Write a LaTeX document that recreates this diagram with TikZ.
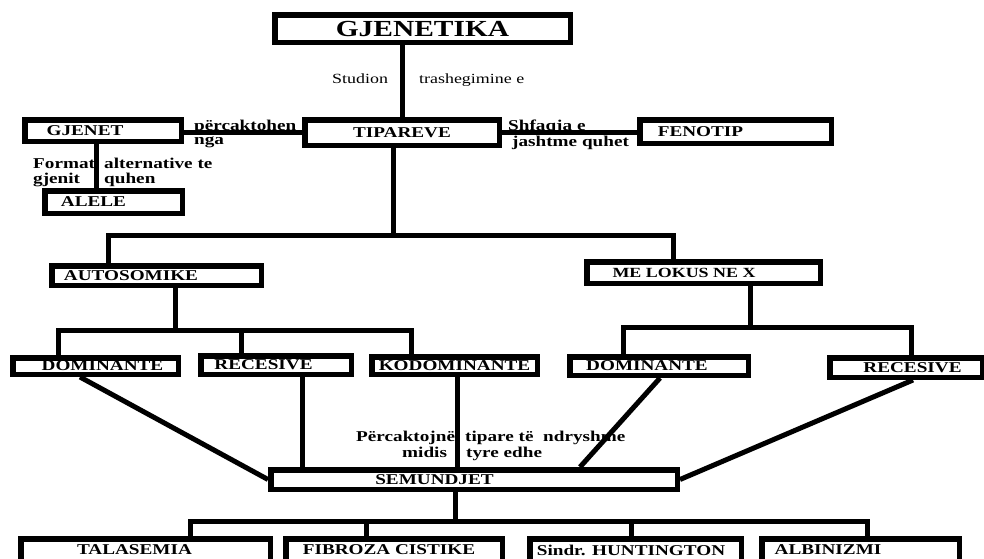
\documentclass[tikz,border=0pt]{standalone}
\usepackage{fontspec}
\setmainfont{Liberation Serif}[FakeStretch=1.28]
\begin{document}
\begin{tikzpicture}[x=1pt,y=-1pt,
  box/.style={draw, rectangle, line width=5.5pt, inner sep=0pt, font=\bfseries\fontsize{15}{15}\selectfont},
  wh/.style 2 args={minimum width={#1-5.5}, minimum height={#2-5.5}},
  conn/.style={line width=5pt},
  lab/.style={inner sep=0pt, font=\bfseries\fontsize{15}{15}\selectfont},
  labr/.style={inner sep=0pt, font=\fontsize{14}{14}\selectfont}]
\clip (0,0) rectangle (984,558);
\useasboundingbox (0,0) rectangle (984,558);

% boxes
\node[box, font=\bfseries\fontsize{23}{23}\selectfont, wh={301}{33}] (gjen) at (422.5,28.5) {GJENETIKA};
\node[box, wh={200}{31}] (tip) at (402,132.5) {TIPAREVE};
\node[box, wh={162}{27}] (gjn) at (103,130.5) {GJENET\hspace*{36pt}};
\node[box, wh={197}{29}] (fen) at (735.5,131.5) {FENOTIP\hspace*{70pt}};
\node[box, wh={143}{28}] (ale) at (113.5,202) {ALELE\hspace*{40pt}};
\node[box, wh={215}{25}] (aut) at (156.5,275.5) {AUTOSOMIKE\hspace*{51pt}};
\node[box, font=\bfseries\fontsize{14}{14}\selectfont, wh={239}{27}] (lok) at (703.5,272.5) {ME LOKUS NE X\hspace*{39pt}};
\node[box, wh={171}{22}] (domL) at (95.5,366) {\hspace*{14pt}DOMINANTE};
\node[box, wh={156}{24}] (recL) at (276,365) {RECESIVE\hspace*{25pt}};
\node[box, wh={171}{23}] (kod) at (454.5,365.5) {KODOMINANTE};
\node[box, wh={184}{24}] (domR) at (659,366) {DOMINANTE\hspace*{24pt}};
\node[box, wh={158}{25}] (recR) at (906,367.5) {\hspace*{13pt}RECESIVE};
\node[box, wh={412}{25}] (sem) at (474,479.5) {SEMUNDJET\hspace*{79pt}};
\node[box, wh={255}{28}] (tal) at (145.5,550) {TALASEMIA\hspace*{22pt}};
\node[box, wh={222}{28}] (fib) at (394,550) {FIBROZA CISTIKE\hspace*{10pt}};
\node[box, wh={217}{28}] (hun) at (635.5,550) {Sindr. HUNTINGTON\hspace*{9pt}};
\node[box, wh={203}{28}] (alb) at (860.5,550) {ALBINIZMI\hspace*{65pt}};

% junction coordinates
\coordinate (x96) at (96,0);
\coordinate (t1) at (393,235);
\coordinate (t2) at (108,235);
\coordinate (t3) at (673,235);
\coordinate (a1) at (175,330);
\coordinate (a2) at (58,330);
\coordinate (a3) at (241,330);
\coordinate (a4) at (411,330);
\coordinate (m1) at (750,327);
\coordinate (m2) at (623,327);
\coordinate (m3) at (911,327);
\coordinate (d1) at (80,0);
\coordinate (r1) at (302,0);
\coordinate (k1) at (457,0);
\coordinate (d2) at (660,0);
\coordinate (d3) at (580,0);
\coordinate (rr) at (913,0);
\coordinate (s1) at (455,521);
\coordinate (s2) at (190,521);
\coordinate (s3) at (366,521);
\coordinate (s4) at (631,521);
\coordinate (s5) at (867,521);

% connectors
\draw[conn] (tip.north) -- (tip.north |- gjen.south);
\draw[conn] (gjn.east |- tip.west) -- (tip.west);
\draw[conn] (tip.east) -- (fen.west |- tip.east);
\draw[conn] (gjn.south -| x96) -- (ale.north -| x96);
\draw[conn] (tip.south -| t1) -- (t1);
\draw[conn] (aut.north -| t2) -- (t2) -- (t3) -- (lok.north -| t3);
\draw[conn] (aut.south -| a1) -- (a1);
\draw[conn] (domL.north -| a2) -- (a2) -- (a4) -- (kod.north -| a4);
\draw[conn] (a3) -- (recL.north -| a3);
\draw[conn] (lok.south -| m1) -- (m1);
\draw[conn] (domR.north -| m2) -- (m2) -- (m3) -- (recR.north -| m3);
\draw[conn] (domL.south -| d1) -- (sem.west);
\draw[conn] (recL.south -| r1) -- (sem.north -| r1);
\draw[conn] (kod.south -| k1) -- (sem.north -| k1);
\draw[conn] (domR.south -| d2) -- (sem.north -| d3);
\draw[conn] (recR.south -| rr) -- (sem.east);
\draw[conn] (sem.south -| s1) -- (s1);
\draw[conn] (tal.north -| s2) -- (s2) -- (s5) -- (alb.north -| s5);
\draw[conn] (s3) -- (fib.north -| s3);
\draw[conn] (s4) -- (hun.north -| s4);

% labels
\node[labr, anchor=base west] (l1) at (332,83) {Studion};
\node[labr, anchor=base west] (l2) at (419,83) {trashegimine e};
\node[lab, anchor=base west] (l3) at (194,130) {përcaktohen};
\node[lab, anchor=base west] (l4) at (194,144) {nga};
\node[lab, anchor=base west] (l5) at (508,130.5) {Shfaqja e};
\node[lab, anchor=base west] (l6) at (512,146.5) {jashtme quhet};
\node[lab, anchor=base west] (l7) at (33,168) {Format};
\node[lab, anchor=base west] (l8) at (33,183) {gjenit};
\node[lab, anchor=base west] (l9) at (104,168) {alternative te};
\node[lab, anchor=base west] (l10) at (104,183) {quhen};
\node[lab, anchor=base west] (l11) at (356,441) {Përcaktojnë};
\node[lab, anchor=base west] (l12) at (465,441) {tipare të\ \ ndryshme};
\node[lab, anchor=base west] (l13) at (402,457) {midis};
\node[lab, anchor=base west] (l14) at (466,457) {tyre edhe};
\end{tikzpicture}
\end{document}
